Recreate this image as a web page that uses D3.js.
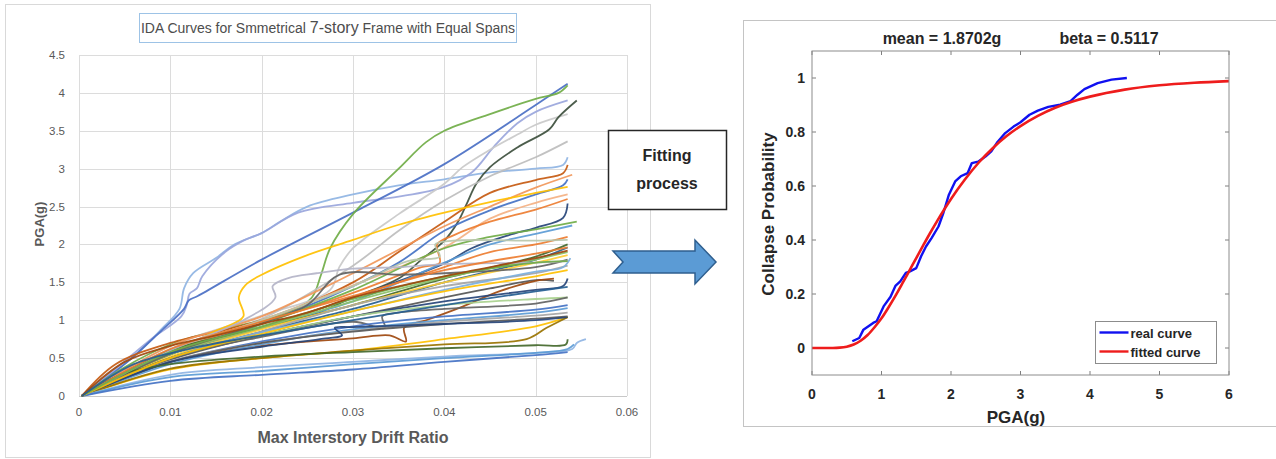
<!DOCTYPE html>
<html>
<head>
<meta charset="utf-8">
<script src="https://cdn.jsdelivr.net/npm/d3@7"></script>
<style>
  body { margin: 0; background: #fff; }
  svg { display: block; }
</style>
</head>
<body>
<div id="chart"></div>
<script>
// ---- data ----

// IDA curves: each one is a list of [max interstory drift ratio, PGA(g)]
const idaCurves = [
  [[0.0003,0],[0.003,0.25],[0.006,0.52],[0.009,0.88],[0.011,1.15],[0.0115,1.42],[0.0125,1.62],[0.015,1.82],[0.017,2.0],[0.02,2.15],[0.022,2.3],[0.025,2.5],[0.03,2.66],[0.035,2.78],[0.04,2.86],[0.045,2.95],[0.05,3.0],[0.053,3.05],[0.0535,3.15]],
  [[0.0003,0],[0.004,0.36],[0.008,0.76],[0.0112,1.05],[0.0118,1.2],[0.0121,1.35],[0.0129,1.42],[0.0135,1.58],[0.016,1.9],[0.018,2.05],[0.02,2.15],[0.024,2.42],[0.03,2.55],[0.035,2.63],[0.04,2.76],[0.043,2.95],[0.0455,3.3],[0.048,3.6],[0.05,3.75],[0.0535,3.9]],
  [[0.0003,0],[0.005,0.42],[0.009,0.86],[0.0115,1.15],[0.012,1.26],[0.013,1.32],[0.02,1.8],[0.03,2.42],[0.04,3.06],[0.05,3.84],[0.0535,4.12]],
  [[0.0003,0],[0.005,0.38],[0.01,0.68],[0.015,0.86],[0.02,1.0],[0.023,1.1],[0.0255,1.3],[0.0265,1.6],[0.0275,1.95],[0.03,2.4],[0.035,3.0],[0.038,3.35],[0.04,3.5],[0.045,3.72],[0.05,3.92],[0.0525,4.0],[0.0535,4.1]],
  [[0.0003,0],[0.01,0.66],[0.02,1.06],[0.0275,1.4],[0.0285,1.7],[0.03,1.95],[0.035,2.4],[0.04,2.8],[0.042,3.02],[0.045,3.25],[0.048,3.45],[0.05,3.58],[0.0535,3.72]],
  [[0.0003,0],[0.01,0.6],[0.02,0.98],[0.025,1.05],[0.03,1.3],[0.035,1.55],[0.0375,1.8],[0.04,2.05],[0.0415,2.3],[0.0425,2.55],[0.0435,2.8],[0.045,3.02],[0.048,3.28],[0.0515,3.52],[0.0525,3.68],[0.0545,3.9]],
  [[0.0003,0],[0.01,0.62],[0.02,1.02],[0.03,1.72],[0.035,2.18],[0.04,2.58],[0.045,2.9],[0.05,3.15],[0.0535,3.36]],
  [[0.0003,0],[0.004,0.42],[0.01,0.7],[0.02,1.0],[0.03,1.5],[0.035,1.9],[0.04,2.3],[0.045,2.68],[0.05,2.85],[0.053,2.94],[0.0535,3.05]],
  [[0.0003,0],[0.01,0.66],[0.02,1.05],[0.03,1.62],[0.04,2.24],[0.045,2.5],[0.05,2.75],[0.054,2.92]],
  [[0.0003,0],[0.01,0.55],[0.02,0.95],[0.03,1.45],[0.035,1.76],[0.04,2.18],[0.045,2.45],[0.05,2.66],[0.053,2.78],[0.0535,2.86]],
  [[0.0003,0],[0.008,0.45],[0.015,0.86],[0.018,1.05],[0.0175,1.3],[0.0182,1.46],[0.02,1.6],[0.025,1.86],[0.03,2.06],[0.035,2.26],[0.04,2.42],[0.045,2.56],[0.05,2.68],[0.0535,2.76]],
  [[0.0003,0],[0.01,0.6],[0.02,1.0],[0.03,1.46],[0.04,1.96],[0.045,2.34],[0.05,2.55],[0.0535,2.66]],
  [[0.0003,0],[0.01,0.6],[0.02,0.96],[0.03,1.36],[0.0375,1.7],[0.0395,1.76],[0.0392,2.0],[0.041,2.12],[0.045,2.3],[0.05,2.46],[0.0535,2.6]],
  [[0.0003,0],[0.01,0.55],[0.02,0.9],[0.03,1.3],[0.04,1.75],[0.043,1.95],[0.047,2.12],[0.05,2.22],[0.053,2.35],[0.0535,2.54]],
  [[0.0003,0],[0.01,0.56],[0.02,0.95],[0.03,1.4],[0.04,1.95],[0.045,2.1],[0.05,2.2],[0.0545,2.3]],
  [[0.0003,0],[0.01,0.5],[0.02,0.9],[0.03,1.25],[0.04,1.76],[0.045,2.0],[0.05,2.14],[0.054,2.25]],
  [[0.0003,0],[0.01,0.56],[0.02,0.9],[0.03,1.3],[0.04,1.7],[0.045,1.9],[0.05,2.0],[0.0535,2.1]],
  [[0.0003,0],[0.01,0.6],[0.02,1.0],[0.03,1.45],[0.036,1.78],[0.0395,1.84],[0.039,2.0],[0.041,2.05],[0.05,2.05],[0.0535,2.06]],
  [[0.0003,0],[0.01,0.6],[0.02,0.9],[0.03,1.2],[0.04,1.55],[0.05,1.84],[0.0535,2.0]],
  [[0.0003,0],[0.01,0.5],[0.02,0.85],[0.03,1.15],[0.04,1.5],[0.05,1.8],[0.0535,1.96]],
  [[0.0003,0],[0.01,0.55],[0.02,0.9],[0.03,1.25],[0.04,1.56],[0.05,1.8],[0.0535,1.9]],
  [[0.0003,0],[0.01,0.52],[0.02,0.88],[0.03,1.2],[0.04,1.5],[0.05,1.76],[0.0535,1.86]],
  [[0.0003,0],[0.01,0.56],[0.02,0.96],[0.025,1.2],[0.0285,1.6],[0.035,1.6],[0.04,1.62],[0.05,1.7],[0.0535,1.8]],
  [[0.0003,0],[0.01,0.5],[0.02,0.85],[0.03,1.2],[0.04,1.45],[0.05,1.62],[0.0535,1.72]],
  [[0.0003,0],[0.01,0.5],[0.02,0.84],[0.03,1.12],[0.04,1.4],[0.05,1.64],[0.053,1.7],[0.0538,1.82]],
  [[0.0003,0],[0.01,0.48],[0.02,0.8],[0.03,1.05],[0.04,1.3],[0.045,1.42],[0.05,1.53],[0.052,1.52]],
  [[0.0003,0],[0.01,0.45],[0.02,0.66],[0.03,0.76],[0.034,0.8],[0.0358,0.72],[0.0356,0.9],[0.038,1.0],[0.042,1.18],[0.046,1.38],[0.05,1.52],[0.052,1.55]],
  [[0.0003,0],[0.01,0.5],[0.02,0.8],[0.03,1.05],[0.04,1.25],[0.05,1.4],[0.053,1.45],[0.0535,1.55]],
  [[0.0003,0],[0.01,0.5],[0.02,0.8],[0.03,1.05],[0.04,1.2],[0.05,1.28],[0.0535,1.3]],
  [[0.0003,0],[0.01,0.5],[0.02,0.78],[0.03,0.98],[0.0335,0.9],[0.0332,1.05],[0.035,1.1],[0.04,1.15],[0.05,1.22],[0.0535,1.3]],
  [[0.0003,0],[0.01,0.45],[0.02,0.72],[0.03,0.92],[0.04,1.05],[0.05,1.14],[0.0535,1.2]],
  [[0.0003,0],[0.01,0.42],[0.02,0.68],[0.03,0.88],[0.04,1.0],[0.05,1.1],[0.0535,1.16]],
  [[0.0003,0],[0.01,0.46],[0.02,0.7],[0.03,0.86],[0.04,0.98],[0.05,1.06],[0.0535,1.1]],
  [[0.0003,0],[0.01,0.45],[0.02,0.7],[0.03,0.85],[0.04,0.95],[0.05,1.02],[0.0535,1.05]],
  [[0.0003,0],[0.01,0.35],[0.02,0.5],[0.03,0.6],[0.04,0.75],[0.05,0.92],[0.0535,1.04]],
  [[0.0003,0],[0.01,0.36],[0.02,0.5],[0.03,0.6],[0.04,0.68],[0.049,0.75],[0.0512,0.9],[0.0535,1.04]],
  [[0.0003,0],[0.01,0.45],[0.02,0.65],[0.027,0.76],[0.0288,0.8],[0.028,0.9],[0.03,0.91],[0.04,0.95],[0.05,1.0],[0.0535,1.04]],
  [[0.0003,0],[0.005,0.3],[0.01,0.42],[0.02,0.52],[0.03,0.58],[0.04,0.63],[0.05,0.67],[0.0533,0.68],[0.0535,0.75]],
  [[0.0003,0],[0.01,0.28],[0.02,0.38],[0.03,0.45],[0.04,0.52],[0.05,0.57],[0.054,0.62],[0.0545,0.7],[0.0555,0.75]],
  [[0.0003,0],[0.01,0.25],[0.02,0.33],[0.03,0.42],[0.04,0.5],[0.05,0.57],[0.0535,0.62],[0.0542,0.68]],
  [[0.0003,0],[0.01,0.2],[0.02,0.28],[0.03,0.35],[0.04,0.45],[0.05,0.54],[0.0535,0.58]],
  [[0.0003,0],[0.01,0.6],[0.018,1.0],[0.0215,1.3],[0.0212,1.45],[0.023,1.56],[0.026,1.62],[0.03,1.68],[0.035,1.7],[0.04,1.74],[0.05,1.76],[0.0535,1.78]],
  [[0.0003,0],[0.01,0.62],[0.02,0.98],[0.03,1.32],[0.04,1.66],[0.05,1.88],[0.0535,1.96]],
  [[0.0003,0],[0.01,0.5],[0.02,0.82],[0.03,1.12],[0.04,1.38],[0.05,1.58],[0.0535,1.66]],
  [[0.0003,0],[0.01,0.58],[0.02,0.92],[0.03,1.28],[0.04,1.58],[0.05,1.76],[0.0535,1.78]],
  [[0.0003,0],[0.005,0.45],[0.01,0.66],[0.015,0.8],[0.02,0.95],[0.025,1.1],[0.03,1.3],[0.04,1.58],[0.05,1.82],[0.0535,1.92]],
  [[0.0003,0],[0.006,0.42],[0.012,0.62],[0.018,0.76],[0.024,0.88],[0.03,1.0],[0.04,1.2],[0.05,1.38],[0.0535,1.44]]
];

// one colour per IDA curve, same order
const idaColors = [
  "#8fb4e3", "#9aa6dc", "#4a6fc4", "#70ad47", "#c9c9c9", "#3d4f3d", "#bdbdbd", "#c55a11",
  "#f1975a", "#4472c4", "#ffc000", "#f4b183", "#ed7d31", "#264478", "#70ad47", "#5b9bd5",
  "#ed7d31", "#b9c7ab", "#43682b", "#255e91", "#8cc168", "#ffcd33", "#636363", "#a5a5a5",
  "#7cafdd", "#555555", "#9e480e", "#264478", "#a9d18e", "#636363", "#4472c4", "#5b9bd5",
  "#a5a5a5", "#595959", "#ffc000", "#997300", "#264478", "#43682b", "#8fb4e3", "#5b9bd5",
  "#4472c4", "#b4b4c8", "#ed7d31", "#ffc000", "#70ad47", "#9e480e", "#255e91"
];

const idaXTicks = [0, 0.01, 0.02, 0.03, 0.04, 0.05, 0.06];
const idaYTicks = [0, 0.5, 1, 1.5, 2, 2.5, 3, 3.5, 4, 4.5];

// collapse fragility: empirical curve (PGA, probability)
const realPga = [0.58, 0.68, 0.74, 0.88, 0.93, 1.03, 1.13, 1.2, 1.27, 1.35, 1.41, 1.5, 1.57, 1.64, 1.72, 1.82, 1.89, 1.97, 2.06, 2.14, 2.24, 2.3, 2.39, 2.5, 2.58, 2.66, 2.78, 2.9, 3.0, 3.13, 3.25, 3.4, 3.57, 3.72, 3.82, 3.92, 4.11, 4.31, 4.53];
const realProb = [0.025, 0.037, 0.068, 0.093, 0.099, 0.154, 0.19, 0.23, 0.247, 0.278, 0.284, 0.296, 0.34, 0.376, 0.407, 0.45, 0.5, 0.568, 0.617, 0.636, 0.648, 0.685, 0.69, 0.71, 0.728, 0.76, 0.796, 0.82, 0.836, 0.864, 0.879, 0.893, 0.901, 0.914, 0.938, 0.959, 0.981, 0.994, 1.0];

// fitted lognormal curve
const fitPga = [0, 0.3, 0.4, 0.5, 0.6, 0.7, 0.8, 0.9, 1.0, 1.1, 1.2, 1.3, 1.4, 1.5, 1.6, 1.7, 1.8, 1.9, 2.0, 2.2, 2.4, 2.6, 2.8, 3.0, 3.25, 3.5, 3.75, 4.0, 4.5, 5.0, 5.5, 6.0];
const fitProb = [0, 0.0002, 0.0013, 0.005, 0.013, 0.027, 0.048, 0.077, 0.11, 0.15, 0.193, 0.239, 0.286, 0.333, 0.38, 0.426, 0.47, 0.512, 0.552, 0.624, 0.687, 0.74, 0.785, 0.822, 0.86, 0.89, 0.913, 0.931, 0.957, 0.973, 0.9825, 0.9886];

const fragXTicks = [0, 1, 2, 3, 4, 5, 6];
const fragYTicks = [0, 0.2, 0.4, 0.6, 0.8, 1];
const legendLabels = ["real curve", "fitted curve"];

// ---- drawing ----

const W = 1276, H = 459;
const svg = d3.select("#chart").append("svg")
  .attr("width", W)
  .attr("height", H);

svg.append("rect").attr("width", W).attr("height", H).attr("fill", "#fff");

drawIda(svg);
drawMiddle(svg);
drawFragility(svg);

function drawIda(svg) {
  const excelFont = "'Liberation Sans Narrow', 'Liberation Sans', Arial, sans-serif";
  const x = d3.scaleLinear().domain([0, 0.06]).range([79, 627]);
  const y = d3.scaleLinear().domain([0, 4.5]).range([396, 55]);

  // panel frame
  svg.append("rect")
    .attr("x", 5.5).attr("y", 4.5)
    .attr("width", 645).attr("height", 453)
    .attr("fill", "none").attr("stroke", "#d9d9d9");

  const g = svg.append("g");

  // gridlines
  g.selectAll("line.vgrid")
    .data(idaXTicks)
    .enter().append("line")
    .attr("class", "vgrid")
    .attr("x1", d => Math.round(x(d)) + 0.5).attr("x2", d => Math.round(x(d)) + 0.5)
    .attr("y1", y(4.5)).attr("y2", y(0))
    .attr("stroke", "#dcdcdc");

  g.selectAll("line.hgrid")
    .data(idaYTicks)
    .enter().append("line")
    .attr("class", "hgrid")
    .attr("x1", x(0)).attr("x2", x(0.06))
    .attr("y1", d => Math.round(y(d)) + 0.5).attr("y2", d => Math.round(y(d)) + 0.5)
    .attr("stroke", d => d === 0 ? "#c8c8c8" : "#dcdcdc");

  // tick labels
  g.selectAll("text.xtick")
    .data(idaXTicks)
    .enter().append("text")
    .attr("class", "xtick")
    .attr("x", d => x(d)).attr("y", 416)
    .attr("text-anchor", "middle")
    .attr("font-family", excelFont).attr("font-size", 11.5)
    .attr("fill", "#595959")
    .text(d => d3.format("")(d));

  g.selectAll("text.ytick")
    .data(idaYTicks)
    .enter().append("text")
    .attr("class", "ytick")
    .attr("x", 65).attr("y", d => y(d) + 4)
    .attr("text-anchor", "end")
    .attr("font-family", excelFont).attr("font-size", 11.5)
    .attr("fill", "#595959")
    .text(d => d);

  // curves
  const line = d3.line()
    .x(d => x(d[0]))
    .y(d => y(d[1]))
    .curve(d3.curveCatmullRom.alpha(0.5));

  g.append("g")
    .selectAll("path")
    .data(idaCurves)
    .enter().append("path")
    .attr("d", line)
    .attr("fill", "none")
    .attr("stroke", (d, i) => idaColors[i % idaColors.length])
    .attr("stroke-width", 1.8)
    .attr("stroke-opacity", 0.92)
    .attr("stroke-linejoin", "round");

  // axis titles
  svg.append("text")
    .attr("x", 353).attr("y", 443)
    .attr("text-anchor", "middle")
    .attr("font-family", excelFont).attr("font-weight", "bold").attr("font-size", 16)
    .attr("fill", "#595959")
    .text("Max Interstory Drift Ratio");

  svg.append("text")
    .attr("transform", "translate(44,224) rotate(-90)")
    .attr("text-anchor", "middle")
    .attr("font-family", excelFont).attr("font-weight", "bold").attr("font-size", 13)
    .attr("fill", "#595959")
    .text("PGA(g)");

  // chart title in its box
  svg.append("rect")
    .attr("x", 139.5).attr("y", 13.5)
    .attr("width", 377).attr("height", 29)
    .attr("fill", "#fff").attr("stroke", "#9dc3e6");

  const title = svg.append("text")
    .attr("x", 328).attr("y", 33)
    .attr("text-anchor", "middle")
    .attr("font-family", excelFont).attr("font-size", 14)
    .attr("fill", "#4d4d4d");
  title.append("tspan").text("IDA Curves for Smmetrical ");
  title.append("tspan").attr("font-size", 16).text("7-story");
  title.append("tspan").text(" Frame with Equal Spans");
}

function drawMiddle(svg) {
  svg.append("rect")
    .attr("x", 608.5).attr("y", 130.5)
    .attr("width", 118).attr("height", 79)
    .attr("fill", "#fff").attr("stroke", "#262626").attr("stroke-width", 1.5);

  svg.selectAll("text.fit")
    .data(["Fitting", "process"])
    .enter().append("text")
    .attr("class", "fit")
    .attr("x", 667).attr("y", (d, i) => 161 + i * 28)
    .attr("text-anchor", "middle")
    .attr("font-family", "'Liberation Sans', Arial, sans-serif")
    .attr("font-weight", "bold").attr("font-size", 16)
    .attr("fill", "#262626")
    .text(d => d);

  // block arrow
  const arrow = [[613, 251], [695, 251], [695, 240], [716, 262], [695, 284], [695, 273], [613, 273], [623, 262]];
  svg.append("path")
    .attr("d", "M" + arrow.map(p => p.join(",")).join("L") + "Z")
    .attr("fill", "#5b9bd5")
    .attr("stroke", "#2f5f8f")
    .attr("stroke-width", 1.5)
    .attr("stroke-linejoin", "miter");
}

function drawFragility(svg) {
  const font = "'Liberation Sans', Arial, sans-serif";
  const x = d3.scaleLinear().domain([0, 6]).range([812, 1229]);
  const y = d3.scaleLinear().domain([-0.1, 1.1]).range([375, 51]);

  // panel frame (runs off the right edge)
  svg.append("rect")
    .attr("x", 743.5).attr("y", 20.5)
    .attr("width", 560).attr("height", 406)
    .attr("fill", "#fff").attr("stroke", "#c4c4c4");

  const g = svg.append("g");

  // ticks on all four sides, pointing inwards
  const tl = 4;
  fragXTicks.forEach(t => {
    g.append("line").attr("x1", x(t)).attr("x2", x(t)).attr("y1", y(-0.1)).attr("y2", y(-0.1) - tl).attr("stroke", "#7f7f7f");
    g.append("line").attr("x1", x(t)).attr("x2", x(t)).attr("y1", y(1.1)).attr("y2", y(1.1) + tl).attr("stroke", "#7f7f7f");
  });
  fragYTicks.forEach(t => {
    g.append("line").attr("x1", x(0)).attr("x2", x(0) + tl).attr("y1", y(t)).attr("y2", y(t)).attr("stroke", "#7f7f7f");
    g.append("line").attr("x1", x(6)).attr("x2", x(6) - tl).attr("y1", y(t)).attr("y2", y(t)).attr("stroke", "#7f7f7f");
  });

  g.selectAll("text.xt")
    .data(fragXTicks)
    .enter().append("text")
    .attr("class", "xt")
    .attr("x", d => x(d)).attr("y", 399)
    .attr("text-anchor", "middle")
    .attr("font-family", font).attr("font-weight", "bold").attr("font-size", 14)
    .attr("fill", "#262626")
    .text(d => d);

  g.selectAll("text.yt")
    .data(fragYTicks)
    .enter().append("text")
    .attr("class", "yt")
    .attr("x", 805).attr("y", d => y(d) + 5)
    .attr("text-anchor", "end")
    .attr("font-family", font).attr("font-weight", "bold").attr("font-size", 14)
    .attr("fill", "#262626")
    .text(d => d);

  const line = d3.line()
    .x(d => x(d[0]))
    .y(d => y(d[1]));

  const realData = realPga.map((v, i) => [v, realProb[i]]);
  const fitData = fitPga.map((v, i) => [v, fitProb[i]]);

  g.append("path")
    .datum(realData)
    .attr("d", line)
    .attr("fill", "none").attr("stroke", "#1010f0").attr("stroke-width", 2.4)
    .attr("stroke-linejoin", "round");

  g.append("path")
    .datum(fitData)
    .attr("d", line.curve(d3.curveMonotoneX))
    .attr("fill", "none").attr("stroke", "#ee1c1c").attr("stroke-width", 2.6);

  // box
  g.append("rect")
    .attr("x", x(0)).attr("y", y(1.1))
    .attr("width", x(6) - x(0)).attr("height", y(-0.1) - y(1.1))
    .attr("fill", "none").attr("stroke", "#8c8c8c");

  // legend
  const lg = g.append("g").attr("transform", "translate(1095.5,321.5)");
  lg.append("rect").attr("width", 121).attr("height", 42)
    .attr("fill", "#fff").attr("stroke", "#8c8c8c");
  const legendColors = ["#1010f0", "#ee1c1c"];
  legendLabels.forEach((lab, i) => {
    lg.append("line")
      .attr("x1", 4).attr("x2", 33)
      .attr("y1", 11 + i * 19).attr("y2", 11 + i * 19)
      .attr("stroke", legendColors[i]).attr("stroke-width", 2.4);
    lg.append("text")
      .attr("x", 35).attr("y", 16 + i * 19)
      .attr("font-family", font).attr("font-weight", "bold").attr("font-size", 13)
      .attr("fill", "#262626")
      .text(lab);
  });

  // titles
  svg.append("text")
    .attr("x", 942).attr("y", 44)
    .attr("text-anchor", "middle")
    .attr("font-family", font).attr("font-weight", "bold").attr("font-size", 16)
    .attr("fill", "#262626")
    .text("mean = 1.8702g");

  svg.append("text")
    .attr("x", 1109).attr("y", 44)
    .attr("text-anchor", "middle")
    .attr("font-family", font).attr("font-weight", "bold").attr("font-size", 16)
    .attr("fill", "#262626")
    .text("beta = 0.5117");

  svg.append("text")
    .attr("x", 1016).attr("y", 423)
    .attr("text-anchor", "middle")
    .attr("font-family", font).attr("font-weight", "bold").attr("font-size", 17)
    .attr("fill", "#262626")
    .text("PGA(g)");

  svg.append("text")
    .attr("transform", "translate(774,214) rotate(-90)")
    .attr("text-anchor", "middle")
    .attr("font-family", font).attr("font-weight", "bold").attr("font-size", 17)
    .attr("fill", "#262626")
    .text("Collapse Probability");
}
</script>
</body>
</html>
